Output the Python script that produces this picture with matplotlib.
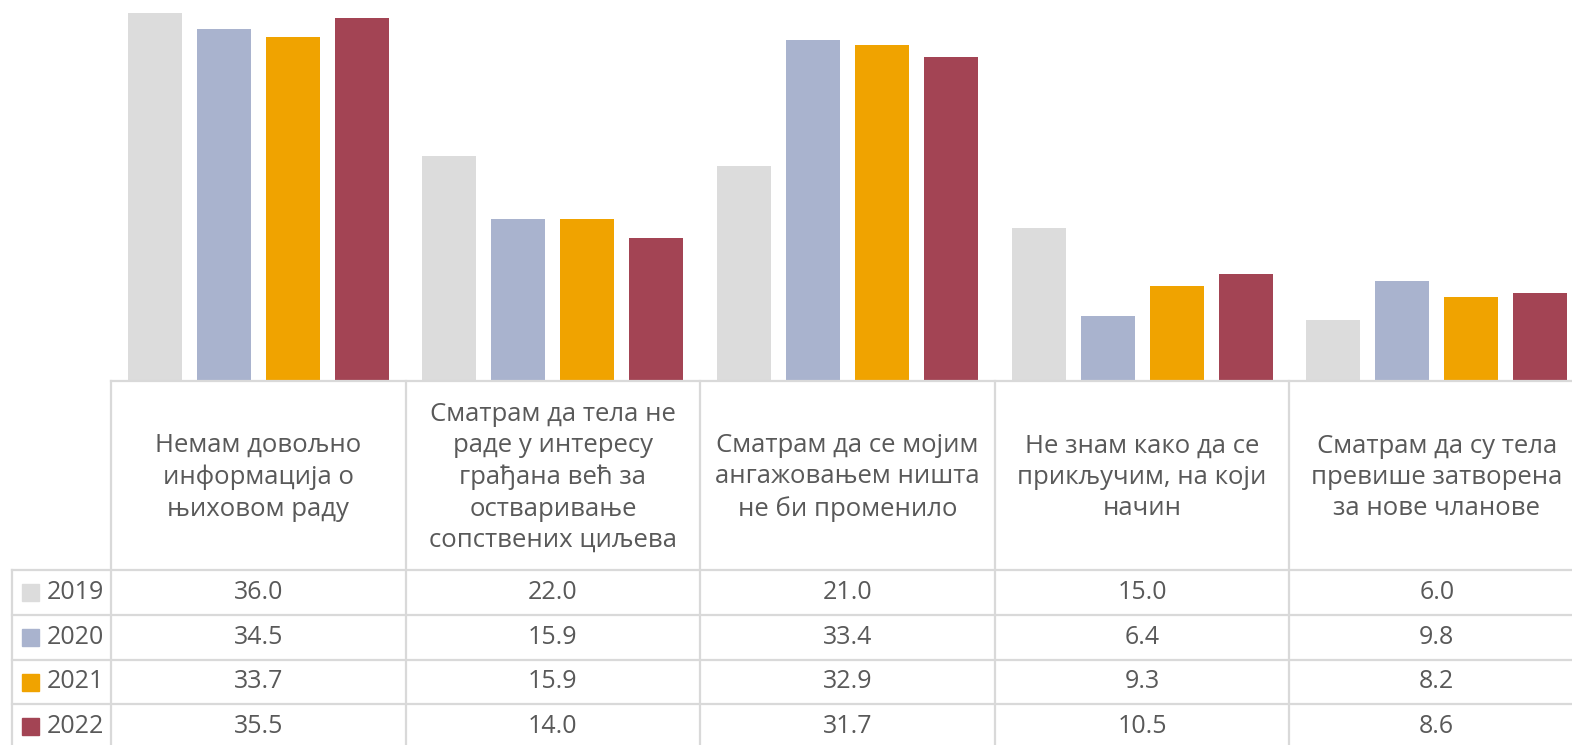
import matplotlib.pyplot as plt
import numpy as np

plt.rcParams['font.family'] = ['Open Sans', 'DejaVu Sans']

# survey answers (header row of the table)
categories = [
    "Немам довољно\nинформација о\nњиховом раду",
    "Сматрам да тела не\nраде у интересу\nграђана већ за\nостваривање\nсопствених циљева",
    "Сматрам да се мојим\nангажовањем ништа\nне би променило",
    "Не знам како да се\nприкључим, на који\nначин",
    "Сматрам да су тела\nпревише затворена\nза нове чланове",
]
years = ["2019", "2020", "2021", "2022"]
v2019 = [36.0, 22.0, 21.0, 15.0, 6.0]
v2020 = [34.5, 15.9, 33.4, 6.4, 9.8]
v2021 = [33.7, 15.9, 32.9, 9.3, 8.2]
v2022 = [35.5, 14.0, 31.7, 10.5, 8.6]
colors = ["#DCDCDC", "#A9B3CE", "#F0A300", "#A34454"]

series = [v2019, v2020, v2021, v2022]

W, H = 1572, 745
fig = plt.figure(figsize=(W / 100, H / 100), dpi=100)

# plot area in pixel terms; last column runs past the right edge
left, right, base = 111, 1584, 381
ax = fig.add_axes([left / W, (H - base) / H, (right - left) / W, base / H])
x = np.arange(len(categories))
bw, step = 0.1834, 0.2344
for i, vals in enumerate(series):
    ax.bar(x + (i - 1.5) * step, vals, width=bw, color=colors[i], zorder=2)
ax.set_xlim(-0.5, len(categories) - 0.5)
ax.set_ylim(0, 37.3)
ax.axis("off")

# data table drawn in pixel coordinates underneath the bars
tab = fig.add_axes([0, 0, 1, 1])
tab.set_xlim(0, W)
tab.set_ylim(H, 0)
tab.axis("off")
tab.patch.set_alpha(0)

grid = "#D9D9D9"
txt = "#595959"
lw = 1.6
colw = (right - left) / len(categories)
rows = [570, 615, 660, 704, 749]

tab.plot([left, right], [base, base], color=grid, lw=lw)
for r in rows:
    tab.plot([12, right], [r, r], color=grid, lw=lw)
tab.plot([12, 12], [rows[0], rows[-1]], color=grid, lw=lw)
for j in range(len(categories) + 1):
    xc = left + j * colw
    tab.plot([xc, xc], [base, rows[-1]], color=grid, lw=lw)

for j, cat in enumerate(categories):
    xc = left + (j + 0.5) * colw
    tab.text(xc, (base + rows[0]) / 2 + 2, cat, ha="center", va="center",
             fontsize=18.5, color=txt, linespacing=1.34)
    for i, vals in enumerate(series):
        yc = (rows[i] + rows[i + 1]) / 2
        tab.text(xc, yc, f"{vals[j]:.1f}", ha="center", va="center",
                 fontsize=18, color=txt)

for i, yr in enumerate(years):
    yc = (rows[i] + rows[i + 1]) / 2
    tab.add_patch(plt.Rectangle((22, yc - 8.5), 17, 17, color=colors[i]))
    tab.text(47, yc, yr, ha="left", va="center", fontsize=18, color=txt)

fig.savefig("out.png", dpi=100)
